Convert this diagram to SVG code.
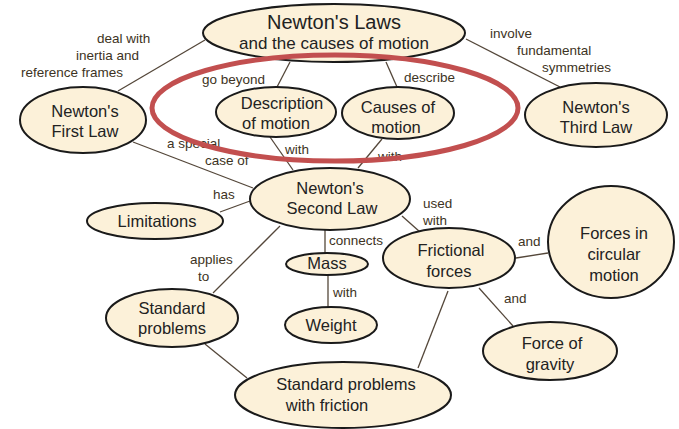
<svg xmlns="http://www.w3.org/2000/svg" width="679" height="429" viewBox="0 0 679 429">
<style>
.n{fill:#fcf1d9;stroke:#1a1a1a;stroke-width:2}
.t{font-family:"Liberation Sans",Arial,sans-serif;font-size:16.5px;fill:#222;text-anchor:middle}
.tb{font-size:20px}
.tm{font-size:17px}
.l{font-family:"Liberation Sans",Arial,sans-serif;font-size:13.5px;fill:#3d3323}
.c line{stroke:#54473a;stroke-width:1.3}
</style>
<rect width="679" height="429" fill="#fff"/>
<g class="c" id="connectors">
<line x1="205" y1="40" x2="118" y2="91"/>
<line x1="466" y1="39" x2="560" y2="87"/>
<line x1="290" y1="62" x2="277" y2="87"/>
<line x1="386" y1="62" x2="397" y2="87"/>
<line x1="133" y1="142" x2="253" y2="188"/>
<line x1="270" y1="137" x2="293" y2="170"/>
<line x1="382" y1="139" x2="358" y2="168"/>
<line x1="250" y1="201" x2="220" y2="212"/>
<line x1="280" y1="226" x2="213" y2="293"/>
<line x1="325" y1="230" x2="325" y2="253"/>
<line x1="328" y1="275" x2="328" y2="307"/>
<line x1="402" y1="216" x2="420" y2="232"/>
<line x1="516" y1="258" x2="548" y2="253"/>
<line x1="479" y1="288" x2="513" y2="326"/>
<line x1="448" y1="291" x2="418" y2="368"/>
<line x1="205" y1="344" x2="247" y2="378"/>
</g>
<g id="labels">
<text class="l" x="97" y="43">deal with</text>
<text class="l" x="76" y="60">inertia and</text>
<text class="l" x="21" y="77">reference frames</text>
<text class="l" x="202" y="84">go beyond</text>
<text class="l" x="404" y="82">describe</text>
<text class="l" x="490" y="38">involve</text>
<text class="l" x="517" y="55">fundamental</text>
<text class="l" x="542" y="72">symmetries</text>
<text class="l" x="167" y="148">a special</text>
<text class="l" x="205" y="165">case of</text>
<text class="l" x="285" y="154">with</text>
<text class="l" x="378" y="161">with</text>
<text class="l" x="213" y="199">has</text>
<text class="l" x="423" y="208">used</text>
<text class="l" x="423" y="225">with</text>
<text class="l" x="190" y="264">applies</text>
<text class="l" x="198" y="281">to</text>
<text class="l" x="329" y="245">connects</text>
<text class="l" x="333" y="297">with</text>
<text class="l" x="518" y="246">and</text>
<text class="l" x="504" y="303">and</text>
</g>
<g id="top"><ellipse class="n" cx="334" cy="33" rx="131" ry="29"/><text class="t tb" x="334" y="29">Newton's Laws</text><text class="t tm" x="334" y="49">and the causes of motion</text></g>
<g id="first"><ellipse class="n" cx="83" cy="120" rx="63" ry="33"/><text class="t" x="85" y="117">Newton's</text><text class="t" x="85" y="137">First Law</text></g>
<g id="desc"><ellipse class="n" cx="276" cy="112" rx="60" ry="25"/><text class="t" x="282" y="109">Description</text><text class="t" x="276" y="129">of motion</text></g>
<g id="causes"><ellipse class="n" cx="398" cy="113" rx="56" ry="26"/><text class="t" x="398" y="113">Causes of</text><text class="t" x="396" y="133">motion</text></g>
<g id="third"><ellipse class="n" cx="596" cy="115" rx="71" ry="32"/><text class="t" x="596" y="113">Newton's</text><text class="t" x="596" y="133">Third Law</text></g>
<g id="second"><ellipse class="n" cx="330" cy="199" rx="80" ry="31"/><text class="t" x="330" y="194">Newton's</text><text class="t" x="332" y="214">Second Law</text></g>
<g id="limits"><ellipse class="n" cx="155" cy="221" rx="68" ry="18"/><text class="t" x="157" y="227">Limitations</text></g>
<g id="mass"><ellipse class="n" cx="327" cy="264" rx="41" ry="11"/><text class="t" x="327" y="269">Mass</text></g>
<g id="weight"><ellipse class="n" cx="331" cy="325" rx="46" ry="18"/><text class="t" x="331" y="331">Weight</text></g>
<g id="stdprob"><ellipse class="n" cx="172" cy="318" rx="66" ry="29"/><text class="t" x="172" y="314">Standard</text><text class="t" x="172" y="334">problems</text></g>
<g id="stdfric"><ellipse class="n" cx="343" cy="395" rx="108" ry="33"/><text class="t" x="346" y="390">Standard problems</text><text class="t" x="327" y="411">with friction</text></g>
<g id="fric"><ellipse class="n" cx="449" cy="258" rx="66" ry="30"/><text class="t" x="451" y="256">Frictional</text><text class="t" x="449" y="277">forces</text></g>
<g id="circ"><ellipse class="n" cx="611" cy="242" rx="63" ry="56"/><text class="t" x="614" y="239">Forces in</text><text class="t" x="614" y="260">circular</text><text class="t" x="614" y="281">motion</text></g>
<g id="grav"><ellipse class="n" cx="550" cy="351" rx="67" ry="29"/><text class="t" x="552" y="349">Force of</text><text class="t" x="550" y="370">gravity</text></g>
<ellipse id="highlight" cx="335" cy="108" rx="183" ry="53" fill="none" stroke="#c24f4f" stroke-width="5"/>
</svg>
